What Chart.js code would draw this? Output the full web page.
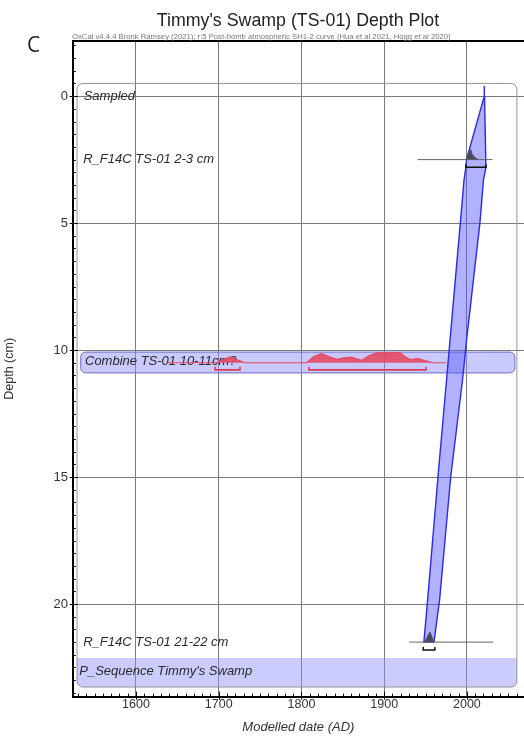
<!DOCTYPE html>
<html><head><meta charset="utf-8">
<script src="https://cdn.jsdelivr.net/npm/chart.js@4.4.1/dist/chart.umd.min.js"></script>
<style>
html,body{margin:0;padding:0;background:#fff;}
#wrap{position:relative;width:524px;height:737px;overflow:hidden;background:#fff;}
#c{position:absolute;left:0;top:0;}
.t{position:absolute;white-space:nowrap;font-family:"Liberation Sans",Arial,sans-serif;line-height:1;}
#title{left:0;width:596px;text-align:center;top:12px;font-size:17.8px;color:#222;}
#sub{left:72px;top:33px;font-size:7.7px;color:#777;}
#panel{left:27px;top:34px;font-family:"Open Sans",sans-serif;font-size:21px;color:#222;}
</style></head><body>
<div id="wrap">
<canvas id="c" width="524" height="737"></canvas>
<div class="t" id="title">Timmy's Swamp (TS-01) Depth Plot</div>
<div class="t" id="sub">OxCal v4.4.4 Bronk Ramsey (2021); r:5 Post-bomb atmospheric SH1-2 curve (Hua et al 2021, Hogg et al 2020)</div>
<div class="t" id="panel">C</div>
</div>
<script>
// ---------- data ----------
const xTicks = [1600, 1700, 1800, 1900, 2000];
const yTicks = [0, 5, 10, 15, 20];
const itemNames = ["Sampled", "R_F14C TS-01 2-3 cm", "Combine TS-01 10-11cm?", "R_F14C TS-01 21-22 cm", "P_Sequence Timmy's Swamp"];
const itemDepths = [0, 2.5, 10.45, 21.5, 22.65];

// age-depth envelope (95% range)
const envDepth = [-0.4, 0, 2.5, 2.8, 3.3, 5, 9.6, 11.2, 15, 19.8, 21.5];
const envLeft  = [2021, 2021, 1999.5, 1998.8, 1996.5, 1992, 1979.6, 1975.3, 1965, 1952.6, 1948];
const envRight = [2021, 2021.3, 2022.8, 2023, 2020, 2015.7, 1999.6, 1994.6, 1980.4, 1967.1, 1960.2];

// Combine TS-01 10-11cm? posterior
const combineDepth = 10.5;
const combineYears = [1638, 1697, 1705, 1713.6, 1722, 1732, 1806, 1815, 1824.4, 1833, 1842.5, 1851, 1860.7, 1866, 1872.7, 1882, 1892.4, 1905, 1919, 1925, 1931, 1936, 1940.8, 1948, 1958.9, 1975];
const combineProb  = [0, 0, 0.3, 0.57, 0.3, 0, 0, 0.62, 0.9, 0.62, 0.34, 0.48, 0.56, 0.4, 0.24, 0.7, 1, 1, 1, 0.62, 0.34, 0.37, 0.41, 0.24, 0, 0];
const combineRanges = [[1695.5, 1725.7], [1809, 1950.5]];

// R_F14C posteriors
const f14cDepths = [2.5, 21.5];
const f14c23Years = [1998.8, 2001.5, 2004.5, 2006.5, 2009.7, 2013.7];
const f14c23Prob  = [0, 0.5, 1, 0.5, 0.2, 0];
const f14c2122Years = [1948.9, 1952, 1955.3, 1957.8, 1960.1];
const f14c2122Prob  = [0, 0.5, 1, 0.5, 0];
const likelihoodRanges = [[1940.4, 2031], [1930.3, 2031.8]];
const f14cRanges = [[1998.8, 2023], [1947.2, 1961.3]];

// boxes (year range, depth range)
const seqBox = [[1528.7, 2060.4], [-0.5, 23.27]];
const seqLabelBand = [22.13, 23.27];
const combineBox = [[1533.2, 2058], [10.08, 10.9]];

// ---------- build ----------
const DIST_H = 0.4;   // drawn height (cm) of a normalised distribution
const TICK_H = 0.12;
const pts = (xs, ys) => xs.map((x, i) => ({x, y: ys[i]}));
const envData = pts(envLeft, envDepth).concat(pts(envRight, envDepth).reverse());
envData.push(envData[0]);
const distData = (yrs, pr, d) => yrs.map((x, i) => ({x, y: d - pr[i] * DIST_H}));
const bracket = (r, d) => [{x: r[0], y: d - TICK_H}, {x: r[0], y: d}, {x: r[1], y: d}, {x: r[1], y: d - TICK_H}];
const hline = (r, d) => [{x: r[0], y: d}, {x: r[1], y: d}];

const base = {showLine: true, pointRadius: 0, pointHoverRadius: 0, tension: 0};
const datasets = [
  {...base, data: bracket(f14cRanges[0], f14cDepths[0] + 0.3), borderColor: '#111', borderWidth: 1.5, fill: false, order: 0},
  {...base, data: bracket(f14cRanges[1], f14cDepths[1] + 0.31), borderColor: '#111', borderWidth: 1.5, fill: false, order: 0},
  {...base, data: bracket(combineRanges[0], combineDepth + 0.28), borderColor: '#dc3c5a', borderWidth: 1.6, fill: false, order: 0},
  {...base, data: bracket(combineRanges[1], combineDepth + 0.28), borderColor: '#dc3c5a', borderWidth: 1.6, fill: false, order: 0},
  {...base, data: distData(f14c23Years, f14c23Prob, f14cDepths[0]), borderColor: '#50505e', backgroundColor: '#4b4b5c', borderWidth: 1, fill: 'shape', order: 1},
  {...base, data: distData(f14c2122Years, f14c2122Prob, f14cDepths[1]), borderColor: '#50505e', backgroundColor: '#4b4b5c', borderWidth: 1, fill: 'shape', order: 1},
  {...base, data: hline(likelihoodRanges[0], f14cDepths[0]), borderColor: '#666', borderWidth: 1, fill: false, order: 1.5},
  {...base, data: hline(likelihoodRanges[1], f14cDepths[1]), borderColor: '#666', borderWidth: 1, fill: false, order: 1.5},
  {...base, data: envData, borderColor: '#2a2ae8', backgroundColor: 'rgba(90,90,255,0.47)', borderWidth: 1.4, fill: 'shape', order: 2},
  {...base, data: distData(combineYears, combineProb, combineDepth), borderColor: '#e24a66', backgroundColor: 'rgba(230,72,95,0.88)', borderWidth: 1.2, fill: 'shape', order: 3}
];

const FONT = '"Liberation Sans", Arial, sans-serif';

function rr(ctx, x0, y0, x1, y1, r, corners) {
  const [tl, tr, br, bl] = corners || [r, r, r, r];
  ctx.beginPath();
  ctx.moveTo(x0 + tl, y0);
  ctx.lineTo(x1 - tr, y0); if (tr) ctx.arcTo(x1, y0, x1, y0 + tr, tr); else ctx.lineTo(x1, y0);
  ctx.lineTo(x1, y1 - br); if (br) ctx.arcTo(x1, y1, x1 - br, y1, br); else ctx.lineTo(x1, y1);
  ctx.lineTo(x0 + bl, y1); if (bl) ctx.arcTo(x0, y1, x0, y1 - bl, bl); else ctx.lineTo(x0, y1);
  ctx.lineTo(x0, y0 + tl); if (tl) ctx.arcTo(x0, y0, x0 + tl, y0, tl); else ctx.lineTo(x0, y0);
  ctx.closePath();
}

const oxcalPlugin = {
  id: 'oxcal',
  beforeDatasetsDraw(chart) {
    const {ctx, scales: {x, y}, chartArea: a} = chart;
    ctx.save();
    ctx.beginPath(); ctx.rect(a.left, a.top, a.right - a.left, a.bottom - a.top); ctx.clip();
    const sx0 = x.getPixelForValue(seqBox[0][0]), sx1 = x.getPixelForValue(seqBox[0][1]);
    const sy0 = y.getPixelForValue(seqBox[1][0]), sy1 = y.getPixelForValue(seqBox[1][1]);
    rr(ctx, sx0, y.getPixelForValue(seqLabelBand[0]), sx1, y.getPixelForValue(seqLabelBand[1]), 6, [0, 0, 6, 6]);
    ctx.fillStyle = 'rgba(140,140,250,0.45)'; ctx.fill();
    rr(ctx, sx0, sy0, sx1, sy1, 6);
    ctx.strokeStyle = '#959595'; ctx.lineWidth = 1; ctx.stroke();
    rr(ctx, x.getPixelForValue(combineBox[0][0]), y.getPixelForValue(combineBox[1][0]),
       x.getPixelForValue(combineBox[0][1]), y.getPixelForValue(combineBox[1][1]), 5);
    ctx.fillStyle = 'rgba(140,140,250,0.47)'; ctx.fill();
    ctx.strokeStyle = 'rgb(110,110,200)'; ctx.lineWidth = 1; ctx.stroke();
    const offs = [11, 10.5, 12.3, 10.5, 6.6];
    ctx.font = 'italic 13px ' + FONT;
    ctx.fillStyle = '#2a2a2a';
    ctx.textBaseline = 'middle'; ctx.textAlign = 'left';
    itemNames.forEach((n, i) => ctx.fillText(n, a.left + offs[i], y.getPixelForValue(itemDepths[i])));
    ctx.restore();
  },
  afterDraw(chart) {
    const {ctx, scales: {x, y}, chartArea: a} = chart;
    ctx.save();
    ctx.strokeStyle = '#000'; ctx.lineWidth = 1;
    ctx.beginPath();
    for (let v = 1530; v <= 2060; v += 10) {
      const px = Math.round(x.getPixelForValue(v)) + 0.5;
      if (px < a.left + 1 || px > a.right) continue;
      if (v % 100 === 0) { ctx.moveTo(px, a.bottom + 3); ctx.lineTo(px, a.bottom - 5); }
      else { ctx.moveTo(px, a.bottom); ctx.lineTo(px, a.bottom - 3); }
    }
    for (let v = -2; v <= 23.5; v += 0.5) {
      const py = Math.round(y.getPixelForValue(v)) + 0.5;
      if (v % 5 === 0) { ctx.moveTo(a.left - 3, py); ctx.lineTo(a.left + 5, py); }
      else { ctx.moveTo(a.left, py); ctx.lineTo(a.left + 3, py); }
    }
    ctx.stroke();
    ctx.lineWidth = 2;
    ctx.beginPath(); ctx.moveTo(a.left, a.top); ctx.lineTo(a.right, a.top); ctx.stroke();
    ctx.restore();
  }
};

new Chart(document.getElementById('c'), {
  type: 'scatter',
  data: {datasets},
  options: {
    responsive: false, animation: false, devicePixelRatio: 1,
    layout: {padding: {top: 41, right: 0, left: 0, bottom: 0}},
    plugins: {legend: {display: false}, tooltip: {enabled: false}, title: {display: false}},
    scales: {
      x: {
        type: 'linear', position: 'bottom', min: 1523.5, max: 2069,
        afterBuildTicks: s => { s.ticks = xTicks.map(v => ({value: v})); },
        afterFit: s => { s.height = 40.3; },
        grid: {color: '#7a7a7a', lineWidth: 1, drawTicks: false},
        border: {display: true, color: '#000', width: 2},
        ticks: {padding: 0, color: '#333', font: {family: FONT, size: 12.5}, maxRotation: 0, autoSkip: false, callback: v => String(v)},
        title: {display: true, text: 'Modelled date (AD)', color: '#333', font: {family: FONT, size: 13, style: 'italic'}, padding: {top: 0, bottom: 2}}
      },
      y: {
        type: 'linear', position: 'left', reverse: true, min: -2.17, max: 23.65,
        afterBuildTicks: s => { s.ticks = yTicks.map(v => ({value: v})); },
        afterFit: s => { s.width = 72.7; },
        grid: {color: '#7a7a7a', lineWidth: 1, drawTicks: false},
        border: {display: true, color: '#000', width: 2},
        ticks: {padding: 4.7, color: '#333', font: {family: FONT, size: 13}, autoSkip: false, callback: v => String(v)},
        title: {display: true, text: 'Depth (cm)', color: '#333', font: {family: FONT, size: 12.5}, padding: {top: 2, bottom: 0}}
      }
    }
  },
  plugins: [oxcalPlugin]
});
</script>
</body></html>
